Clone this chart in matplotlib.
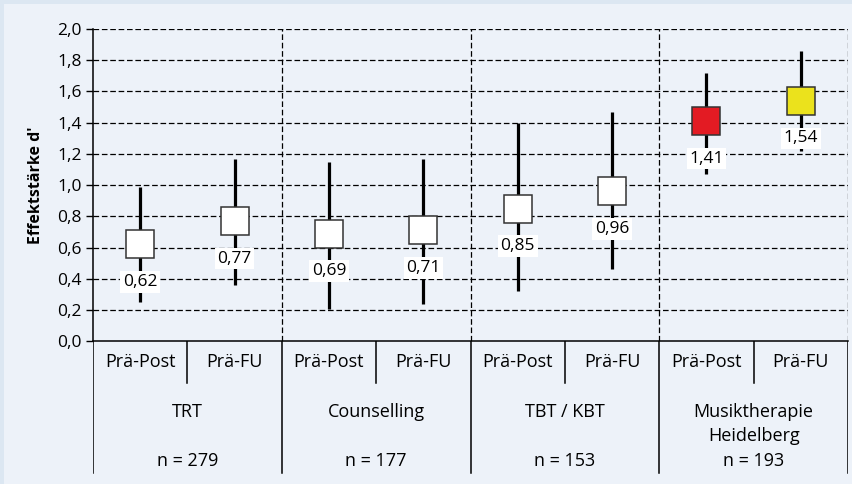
import numpy as np
import matplotlib
matplotlib.use('Agg')
import matplotlib.pyplot as plt
from matplotlib.patches import Rectangle

plt.rcParams['font.family'] = ['Open Sans', 'DejaVu Sans']

# effect sizes d' with confidence intervals
groups = ['TRT', 'Counselling', 'TBT / KBT', 'Musiktherapie\nHeidelberg']
n_labels = ['n = 279', 'n = 177', 'n = 153', 'n = 193']
phases = ['Prä-Post', 'Prä-FU']
d_values = [0.62, 0.77, 0.69, 0.71, 0.85, 0.96, 1.41, 1.54]
ci_low = [0.25, 0.36, 0.21, 0.24, 0.32, 0.46, 1.07, 1.22]
ci_high = [0.99, 1.17, 1.15, 1.17, 1.40, 1.47, 1.72, 1.86]
box_colors = ['white'] * 6 + ['#e31b23', '#ebe21c']
y_ticks = [0.0, 0.2, 0.4, 0.6, 0.8, 1.0, 1.2, 1.4, 1.6, 1.8, 2.0]

W, H = 852, 484
fig = plt.figure(figsize=(W / 100, H / 100), dpi=100, facecolor='#dce7f2')
fig.patches.append(Rectangle((4 / W, 0), 1, (H - 4) / H, transform=fig.transFigure,
                             facecolor='#edf2f9', edgecolor='none', zorder=-10))

left, right = 93 / W, 848 / W
bottom, top = (H - 341.3) / H, (H - 29) / H
ax = fig.add_axes([left, bottom, right - left, top - bottom])
ax.set_facecolor('none')

x = np.arange(len(d_values))
ax.set_xlim(-0.5, len(d_values) - 0.5)
ax.set_ylim(0, 2.0)

dash = (0, (4.5, 2.2))
for yv in y_ticks[1:]:
    ax.axhline(yv, color='black', lw=0.9, linestyle=dash, zorder=1)
for xv in [1.5, 3.5, 5.5, 7.5]:
    ax.axvline(xv, color='black', lw=0.9, linestyle=dash, zorder=1)

ax.vlines(x, ci_low, ci_high, color='black', lw=2.3, zorder=3)
for xi, d, c in zip(x, d_values, box_colors):
    ax.plot(xi, d, marker='s', markersize=19.5, markerfacecolor=c,
            markeredgecolor='#333333', markeredgewidth=1.1, zorder=4)
    ax.annotate(f'{d:.2f}'.replace('.', ','), (xi, d), xytext=(0, -27),
                textcoords='offset points', ha='center', va='center', fontsize=12.5,
                bbox=dict(boxstyle='square,pad=0.15', facecolor='white', edgecolor='none'),
                zorder=5)

ax.set_yticks(y_ticks)
ax.set_yticklabels([f'{v:.1f}'.replace('.', ',') for v in y_ticks], fontsize=12.5)
ax.set_xticks([])
ax.tick_params(axis='y', direction='out', length=5, width=1, pad=3)
for s in ['top', 'right']:
    ax.spines[s].set_visible(False)
ax.spines['left'].set_linewidth(1.1)
ax.spines['bottom'].set_linewidth(1.1)
ax.set_ylabel("Effektstärke d'", fontsize=11.5, fontweight='bold', labelpad=10)

# table below the plot
tab = fig.add_axes([left, 0, right - left, bottom])
tab.set_xlim(-0.5, len(d_values) - 0.5)
tab.set_ylim(H, 341.3)
tab.axis('off')
for xv in [-0.5, 1.5, 3.5, 5.5, 7.5]:
    tab.plot([xv, xv], [341.3, 473], color='black', lw=1.1)
for xv in [0.5, 2.5, 4.5, 6.5]:
    tab.plot([xv, xv], [341.3, 383], color='black', lw=1.1)
for xi in x:
    tab.text(xi, 362, phases[xi % 2], ha='center', va='center', fontsize=13)
for gi, (g, nl) in enumerate(zip(groups, n_labels)):
    tab.text(2 * gi + 0.5, 403, g, ha='center', va='top', fontsize=13, linespacing=1.45)
    tab.text(2 * gi + 0.5, 461, nl, ha='center', va='center', fontsize=13)

fig.savefig('out.png', dpi=100, facecolor=fig.get_facecolor())
